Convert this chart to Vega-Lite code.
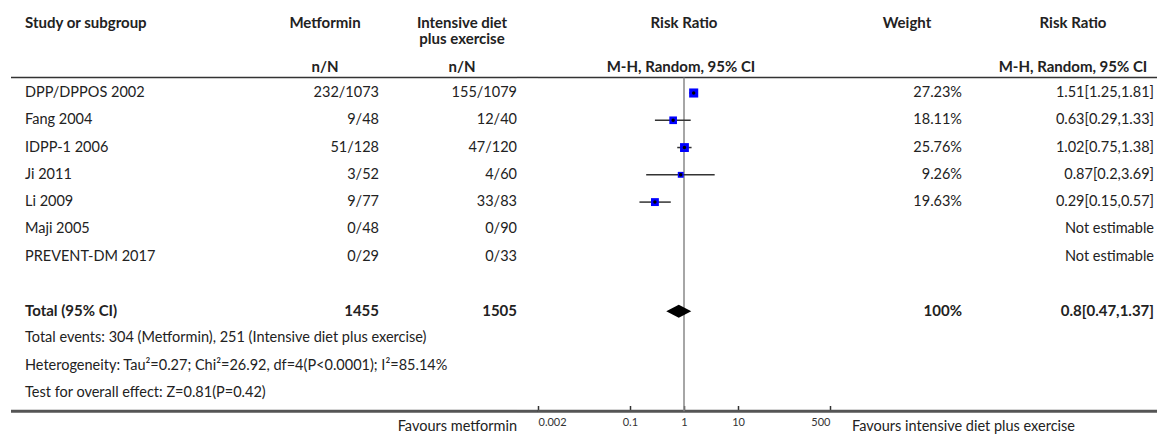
{
  "$schema": "https://vega.github.io/schema/vega-lite/v6.json",
  "background": "white",
  "padding": {"left": 9, "top": 0, "right": 0, "bottom": 0},
  "spacing": 0,
  "bounds": "flush",
  "config": {
    "view": {"stroke": null},
    "text": {"font": "Lato", "fontSize": 14.5, "color": "#222222"}
  },
  "datasets": {
    "rows": [
      {"key": "dpp", "label": "DPP/DPPOS 2002", "kind": "study", "met": "232/1073", "int": "155/1079", "wt": "27.23%", "ci": "1.51[1.25,1.81]", "rr": 1.51, "lo": 1.25, "hi": 1.81, "w": 27.23},
      {"key": "fang", "label": "Fang 2004", "kind": "study", "met": "9/48", "int": "12/40", "wt": "18.11%", "ci": "0.63[0.29,1.33]", "rr": 0.63, "lo": 0.29, "hi": 1.33, "w": 18.11},
      {"key": "idpp", "label": "IDPP-1 2006", "kind": "study", "met": "51/128", "int": "47/120", "wt": "25.76%", "ci": "1.02[0.75,1.38]", "rr": 1.02, "lo": 0.75, "hi": 1.38, "w": 25.76},
      {"key": "ji", "label": "Ji 2011", "kind": "study", "met": "3/52", "int": "4/60", "wt": "9.26%", "ci": "0.87[0.2,3.69]", "rr": 0.87, "lo": 0.2, "hi": 3.69, "w": 9.26},
      {"key": "li", "label": "Li 2009", "kind": "study", "met": "9/77", "int": "33/83", "wt": "19.63%", "ci": "0.29[0.15,0.57]", "rr": 0.29, "lo": 0.15, "hi": 0.57, "w": 19.63},
      {"key": "maji", "label": "Maji 2005", "kind": "study", "met": "0/48", "int": "0/90", "wt": "", "ci": "Not estimable", "rr": null, "lo": null, "hi": null, "w": null},
      {"key": "prev", "label": "PREVENT-DM 2017", "kind": "study", "met": "0/29", "int": "0/33", "wt": "", "ci": "Not estimable", "rr": null, "lo": null, "hi": null, "w": null},
      {"key": "total", "label": "Total (95% CI)", "kind": "total", "met": "1455", "int": "1505", "wt": "100%", "ci": "0.8[0.47,1.37]", "rr": 0.8, "lo": 0.47, "hi": 1.37, "w": 100},
      {"key": "ev", "label": "Total events: 304 (Metformin), 251 (Intensive diet plus exercise)", "kind": "note"},
      {"key": "het", "label": "Heterogeneity: Tau²=0.27; Chi²=26.92, df=4(P<0.0001); I²=85.14%", "kind": "note"},
      {"key": "test", "label": "Test for overall effect: Z=0.81(P=0.42)", "kind": "note"}
    ],
    "heads": [
      {"col": "study", "top": "Study or subgroup", "sub": "", "foot": ""},
      {"col": "met", "top": "Metformin", "sub": "n/N", "foot": ""},
      {"col": "int", "top": "Intensive diet\nplus exercise", "sub": "n/N", "foot": "Favours metformin"},
      {"col": "gap", "top": "", "sub": "", "foot": ""},
      {"col": "rr", "top": "Risk Ratio", "sub": "M-H, Random, 95% CI", "foot": ""},
      {"col": "wt", "top": "Weight", "sub": "", "foot": "Favours intensive diet plus exercise"},
      {"col": "ci", "top": "Risk Ratio", "sub": "M-H, Random, 95% CI", "foot": ""}
    ]
  },
  "hconcat": [
    {
      "width": 241, "height": 435,
      "data": {"name": "heads"},
      "layer": [
        {"transform": [{"filter": "datum.col === 'study'"}], "mark": {"type": "rule", "color": "#333333", "strokeWidth": 1.5}, "encoding": {"y": {"datum": "h3", "type": "nominal", "bandPosition": 0.93, "scale": {"type": "band", "domain": ["h1","h2","h3","dpp","fang","idpp","ji","li","maji","prev","gap","total","ev","het","test","axis"], "range": [-2.45, 433.9], "paddingInner": 0, "paddingOuter": 0}, "axis": null}}},
        {"transform": [{"filter": "datum.col === 'study'"}], "mark": {"type": "rule", "color": "#555555", "strokeWidth": 3}, "encoding": {"y": {"datum": "axis", "type": "nominal", "bandPosition": 0.17, "scale": {"type": "band", "domain": ["h1","h2","h3","dpp","fang","idpp","ji","li","maji","prev","gap","total","ev","het","test","axis"], "range": [-2.45, 433.9], "paddingInner": 0, "paddingOuter": 0}, "axis": null}}},
        {"transform": [{"filter": "datum.col === 'study'"}],
         "mark": {"type": "text", "align": "left", "baseline": "alphabetic", "dx": 14, "fontWeight": "bold", "fontSize": 15},
         "encoding": {"x": {"value": 0}, "y": {"datum": "h2", "type": "nominal", "bandPosition": 0.1, "scale": {"type": "band", "domain": ["h1","h2","h3","dpp","fang","idpp","ji","li","maji","prev","gap","total","ev","het","test","axis"], "range": [-2.45, 433.9], "paddingInner": 0, "paddingOuter": 0}, "axis": null}, "text": {"field": "top"}}},
        {"data": {"name": "rows"}, "transform": [{"filter": "datum.kind !== 'total'"}],
         "mark": {"type": "text", "align": "left", "dx": 14},
         "encoding": {"x": {"value": 0}, "y": {"field": "key", "type": "nominal", "scale": {"type": "band", "domain": ["h1","h2","h3","dpp","fang","idpp","ji","li","maji","prev","gap","total","ev","het","test","axis"], "range": [-2.45, 433.9], "paddingInner": 0, "paddingOuter": 0}, "axis": null}, "text": {"field": "label"}}},
        {"data": {"name": "rows"}, "transform": [{"filter": "datum.kind === 'total'"}],
         "mark": {"type": "text", "align": "left", "dx": 14, "fontWeight": "bold", "fontSize": 15},
         "encoding": {"x": {"value": 0}, "y": {"field": "key", "type": "nominal", "scale": {"type": "band", "domain": ["h1","h2","h3","dpp","fang","idpp","ji","li","maji","prev","gap","total","ev","het","test","axis"], "range": [-2.45, 433.9], "paddingInner": 0, "paddingOuter": 0}, "axis": null}, "text": {"field": "label"}}}
      ]
    },
    {
      "width": 127, "height": 435,
      "data": {"name": "heads"},
      "layer": [
        {"transform": [{"filter": "datum.col === 'met'"}], "mark": {"type": "rule", "color": "#333333", "strokeWidth": 1.5}, "encoding": {"y": {"datum": "h3", "type": "nominal", "bandPosition": 0.93, "scale": {"type": "band", "domain": ["h1","h2","h3","dpp","fang","idpp","ji","li","maji","prev","gap","total","ev","het","test","axis"], "range": [-2.45, 433.9], "paddingInner": 0, "paddingOuter": 0}, "axis": null}}},
        {"transform": [{"filter": "datum.col === 'met'"}], "mark": {"type": "rule", "color": "#555555", "strokeWidth": 3}, "encoding": {"y": {"datum": "axis", "type": "nominal", "bandPosition": 0.17, "scale": {"type": "band", "domain": ["h1","h2","h3","dpp","fang","idpp","ji","li","maji","prev","gap","total","ev","het","test","axis"], "range": [-2.45, 433.9], "paddingInner": 0, "paddingOuter": 0}, "axis": null}}},
        {"transform": [{"filter": "datum.col === 'met'"}],
         "mark": {"type": "text", "align": "center", "baseline": "alphabetic", "dx": -54, "fontWeight": "bold", "fontSize": 15},
         "encoding": {"x": {"value": "width"}, "y": {"datum": "h2", "type": "nominal", "bandPosition": 0.1, "scale": {"type": "band", "domain": ["h1","h2","h3","dpp","fang","idpp","ji","li","maji","prev","gap","total","ev","het","test","axis"], "range": [-2.45, 433.9], "paddingInner": 0, "paddingOuter": 0}, "axis": null}, "text": {"field": "top"}}},
        {"transform": [{"filter": "datum.col === 'met'"}],
         "mark": {"type": "text", "align": "center", "dx": -54, "fontWeight": "bold", "fontSize": 15},
         "encoding": {"x": {"value": "width"}, "y": {"datum": "h3", "type": "nominal", "bandPosition": 0.546, "scale": {"type": "band", "domain": ["h1","h2","h3","dpp","fang","idpp","ji","li","maji","prev","gap","total","ev","het","test","axis"], "range": [-2.45, 433.9], "paddingInner": 0, "paddingOuter": 0}, "axis": null}, "text": {"field": "sub"}}},
        {"data": {"name": "rows"}, "transform": [{"filter": "datum.kind === 'study'"}],
         "mark": {"type": "text", "align": "right"},
         "encoding": {"x": {"value": "width"}, "y": {"field": "key", "type": "nominal", "scale": {"type": "band", "domain": ["h1","h2","h3","dpp","fang","idpp","ji","li","maji","prev","gap","total","ev","het","test","axis"], "range": [-2.45, 433.9], "paddingInner": 0, "paddingOuter": 0}, "axis": null}, "text": {"field": "met"}}},
        {"data": {"name": "rows"}, "transform": [{"filter": "datum.kind === 'total'"}],
         "mark": {"type": "text", "align": "right", "fontWeight": "bold", "fontSize": 15},
         "encoding": {"x": {"value": "width"}, "y": {"field": "key", "type": "nominal", "scale": {"type": "band", "domain": ["h1","h2","h3","dpp","fang","idpp","ji","li","maji","prev","gap","total","ev","het","test","axis"], "range": [-2.45, 433.9], "paddingInner": 0, "paddingOuter": 0}, "axis": null}, "text": {"field": "met"}}}
      ]
    },
    {
      "width": 138, "height": 435,
      "data": {"name": "heads"},
      "layer": [
        {"transform": [{"filter": "datum.col === 'int'"}], "mark": {"type": "rule", "color": "#333333", "strokeWidth": 1.5}, "encoding": {"y": {"datum": "h3", "type": "nominal", "bandPosition": 0.93, "scale": {"type": "band", "domain": ["h1","h2","h3","dpp","fang","idpp","ji","li","maji","prev","gap","total","ev","het","test","axis"], "range": [-2.45, 433.9], "paddingInner": 0, "paddingOuter": 0}, "axis": null}}},
        {"transform": [{"filter": "datum.col === 'int'"}], "mark": {"type": "rule", "color": "#555555", "strokeWidth": 3}, "encoding": {"y": {"datum": "axis", "type": "nominal", "bandPosition": 0.17, "scale": {"type": "band", "domain": ["h1","h2","h3","dpp","fang","idpp","ji","li","maji","prev","gap","total","ev","het","test","axis"], "range": [-2.45, 433.9], "paddingInner": 0, "paddingOuter": 0}, "axis": null}}},
        {"transform": [{"filter": "datum.col === 'int'"}],
         "mark": {"type": "text", "align": "center", "baseline": "alphabetic", "dx": -55, "fontWeight": "bold", "fontSize": 15, "lineBreak": "\n", "lineHeight": 16.5},
         "encoding": {"x": {"value": "width"}, "y": {"datum": "h2", "type": "nominal", "bandPosition": 0.1, "scale": {"type": "band", "domain": ["h1","h2","h3","dpp","fang","idpp","ji","li","maji","prev","gap","total","ev","het","test","axis"], "range": [-2.45, 433.9], "paddingInner": 0, "paddingOuter": 0}, "axis": null}, "text": {"field": "top"}}},
        {"transform": [{"filter": "datum.col === 'int'"}],
         "mark": {"type": "text", "align": "center", "dx": -55, "fontWeight": "bold", "fontSize": 15},
         "encoding": {"x": {"value": "width"}, "y": {"datum": "h3", "type": "nominal", "bandPosition": 0.546, "scale": {"type": "band", "domain": ["h1","h2","h3","dpp","fang","idpp","ji","li","maji","prev","gap","total","ev","het","test","axis"], "range": [-2.45, 433.9], "paddingInner": 0, "paddingOuter": 0}, "axis": null}, "text": {"field": "sub"}}},
        {"transform": [{"filter": "datum.col === 'int'"}],
         "mark": {"type": "text", "align": "right"},
         "encoding": {"x": {"value": "width"}, "y": {"datum": "axis", "type": "nominal", "bandPosition": 0.74, "scale": {"type": "band", "domain": ["h1","h2","h3","dpp","fang","idpp","ji","li","maji","prev","gap","total","ev","het","test","axis"], "range": [-2.45, 433.9], "paddingInner": 0, "paddingOuter": 0}, "axis": null}, "text": {"field": "foot"}}},
        {"data": {"name": "rows"}, "transform": [{"filter": "datum.kind === 'study'"}],
         "mark": {"type": "text", "align": "right"},
         "encoding": {"x": {"value": "width"}, "y": {"field": "key", "type": "nominal", "scale": {"type": "band", "domain": ["h1","h2","h3","dpp","fang","idpp","ji","li","maji","prev","gap","total","ev","het","test","axis"], "range": [-2.45, 433.9], "paddingInner": 0, "paddingOuter": 0}, "axis": null}, "text": {"field": "int"}}},
        {"data": {"name": "rows"}, "transform": [{"filter": "datum.kind === 'total'"}],
         "mark": {"type": "text", "align": "right", "fontWeight": "bold", "fontSize": 15},
         "encoding": {"x": {"value": "width"}, "y": {"field": "key", "type": "nominal", "scale": {"type": "band", "domain": ["h1","h2","h3","dpp","fang","idpp","ji","li","maji","prev","gap","total","ev","het","test","axis"], "range": [-2.45, 433.9], "paddingInner": 0, "paddingOuter": 0}, "axis": null}, "text": {"field": "int"}}}
      ]
    },
    {
      "width": 21, "height": 435,
      "data": {"name": "heads"},
      "transform": [{"filter": "datum.col === 'gap'"}],
      "layer": [
        {"mark": {"type": "rule", "color": "#333333", "strokeWidth": 1.5}, "encoding": {"y": {"datum": "h3", "type": "nominal", "bandPosition": 0.93, "scale": {"type": "band", "domain": ["h1","h2","h3","dpp","fang","idpp","ji","li","maji","prev","gap","total","ev","het","test","axis"], "range": [-2.45, 433.9], "paddingInner": 0, "paddingOuter": 0}, "axis": null}}},
        {"mark": {"type": "rule", "color": "#555555", "strokeWidth": 3}, "encoding": {"y": {"datum": "axis", "type": "nominal", "bandPosition": 0.17, "scale": {"type": "band", "domain": ["h1","h2","h3","dpp","fang","idpp","ji","li","maji","prev","gap","total","ev","het","test","axis"], "range": [-2.45, 433.9], "paddingInner": 0, "paddingOuter": 0}, "axis": null}}}
      ]
    },
    {
      "width": 292, "height": 411.5,
      "data": {"name": "heads"},
      "layer": [
        {"transform": [{"filter": "datum.col === 'rr'"}], "mark": {"type": "rule", "color": "#333333", "strokeWidth": 1.5}, "encoding": {"y": {"datum": "h3", "type": "nominal", "bandPosition": 0.93, "scale": {"type": "band", "domain": ["h1","h2","h3","dpp","fang","idpp","ji","li","maji","prev","gap","total","ev","het","test","axis"], "range": [-2.45, 433.9], "paddingInner": 0, "paddingOuter": 0}, "axis": null}}},
        {"transform": [{"filter": "datum.col === 'rr'"}], "mark": {"type": "rule", "color": "#555555", "strokeWidth": 3}, "encoding": {"y": {"datum": "axis", "type": "nominal", "bandPosition": 0.17, "scale": {"type": "band", "domain": ["h1","h2","h3","dpp","fang","idpp","ji","li","maji","prev","gap","total","ev","het","test","axis"], "range": [-2.45, 433.9], "paddingInner": 0, "paddingOuter": 0}, "axis": null}}},
        {"transform": [{"filter": "datum.col === 'rr'"}],
         "mark": {"type": "text", "align": "center", "baseline": "alphabetic", "fontWeight": "bold", "fontSize": 15},
         "encoding": {"x": {"datum": 1, "type": "quantitative", "scale": {"type": "log", "domain": [0.002, 500], "nice": false}, "axis": {"orient": "bottom", "values": [0.002, 0.1, 1, 10, 500], "format": "~g", "domain": false, "grid": false, "ticks": true, "tickSize": -6, "tickWidth": 1.5, "tickColor": "#333333", "labelFlush": true, "labelFont": "Lato", "labelFontSize": 11, "labelColor": "#333333", "labelPadding": 11, "title": null}}, "y": {"datum": "h2", "type": "nominal", "bandPosition": 0.1, "scale": {"type": "band", "domain": ["h1","h2","h3","dpp","fang","idpp","ji","li","maji","prev","gap","total","ev","het","test","axis"], "range": [-2.45, 433.9], "paddingInner": 0, "paddingOuter": 0}, "axis": null}, "text": {"field": "top"}}},
        {"transform": [{"filter": "datum.col === 'rr'"}],
         "mark": {"type": "text", "align": "center", "fontWeight": "bold", "fontSize": 15, "dx": -3},
         "encoding": {"x": {"datum": 1, "type": "quantitative", "scale": {"type": "log", "domain": [0.002, 500], "nice": false}, "axis": {"orient": "bottom", "values": [0.002, 0.1, 1, 10, 500], "format": "~g", "domain": false, "grid": false, "ticks": true, "tickSize": -6, "tickWidth": 1.5, "tickColor": "#333333", "labelFlush": true, "labelFont": "Lato", "labelFontSize": 11, "labelColor": "#333333", "labelPadding": 11, "title": null}}, "y": {"datum": "h3", "type": "nominal", "bandPosition": 0.546, "scale": {"type": "band", "domain": ["h1","h2","h3","dpp","fang","idpp","ji","li","maji","prev","gap","total","ev","het","test","axis"], "range": [-2.45, 433.9], "paddingInner": 0, "paddingOuter": 0}, "axis": null}, "text": {"field": "sub"}}},
        {"transform": [{"filter": "datum.col === 'rr'"}],
         "mark": {"type": "rule", "color": "#888888", "strokeWidth": 1.5},
         "encoding": {"x": {"datum": 1, "type": "quantitative", "scale": {"type": "log", "domain": [0.002, 500], "nice": false}, "axis": {"orient": "bottom", "values": [0.002, 0.1, 1, 10, 500], "format": "~g", "domain": false, "grid": false, "ticks": true, "tickSize": -6, "tickWidth": 1.5, "tickColor": "#333333", "labelFlush": true, "labelFont": "Lato", "labelFontSize": 11, "labelColor": "#333333", "labelPadding": 11, "title": null}}, "y": {"datum": "h3", "type": "nominal", "bandPosition": 0.93, "scale": {"type": "band", "domain": ["h1","h2","h3","dpp","fang","idpp","ji","li","maji","prev","gap","total","ev","het","test","axis"], "range": [-2.45, 433.9], "paddingInner": 0, "paddingOuter": 0}, "axis": null}, "y2": {"datum": "axis", "bandPosition": 0.17}}},
        {"data": {"name": "rows"}, "transform": [{"filter": "datum.kind === 'study' && isValid(datum.rr)"}],
         "mark": {"type": "rule", "color": "#333333", "strokeWidth": 1.5},
         "encoding": {
           "x": {"field": "lo", "type": "quantitative", "scale": {"type": "log", "domain": [0.002, 500], "nice": false},
                 "axis": {"orient": "bottom", "values": [0.002, 0.1, 1, 10, 500], "format": "~g", "domain": false, "grid": false, "ticks": true, "tickSize": -6, "tickWidth": 1.5, "tickColor": "#333333", "labelFlush": true, "labelFont": "Lato", "labelFontSize": 11, "labelColor": "#333333", "labelPadding": 11, "title": null}},
           "x2": {"field": "hi"},
           "y": {"field": "key", "type": "nominal", "scale": {"type": "band", "domain": ["h1","h2","h3","dpp","fang","idpp","ji","li","maji","prev","gap","total","ev","het","test","axis"], "range": [-2.45, 433.9], "paddingInner": 0, "paddingOuter": 0}, "axis": null}}},
        {"data": {"name": "rows"}, "transform": [{"filter": "datum.kind === 'study' && isValid(datum.rr)"}],
         "mark": {"type": "point", "shape": "square", "filled": true, "color": "#0000ff", "opacity": 1},
         "encoding": {
           "x": {"field": "rr", "type": "quantitative", "scale": {"type": "log", "domain": [0.002, 500], "nice": false}, "axis": {"orient": "bottom", "values": [0.002, 0.1, 1, 10, 500], "format": "~g", "domain": false, "grid": false, "ticks": true, "tickSize": -6, "tickWidth": 1.5, "tickColor": "#333333", "labelFlush": true, "labelFont": "Lato", "labelFontSize": 11, "labelColor": "#333333", "labelPadding": 11, "title": null}},
           "y": {"field": "key", "type": "nominal", "scale": {"type": "band", "domain": ["h1","h2","h3","dpp","fang","idpp","ji","li","maji","prev","gap","total","ev","het","test","axis"], "range": [-2.45, 433.9], "paddingInner": 0, "paddingOuter": 0}, "axis": null},
           "size": {"field": "w", "type": "quantitative", "scale": {"domain": [0, 30], "range": [10, 90]}, "legend": null}}},
        {"data": {"name": "rows"}, "transform": [{"filter": "datum.kind === 'study' && isValid(datum.rr)"}],
         "mark": {"type": "point", "shape": "circle", "filled": true, "color": "#000000", "opacity": 1, "size": 12},
         "encoding": {
           "x": {"field": "rr", "type": "quantitative", "scale": {"type": "log", "domain": [0.002, 500], "nice": false}, "axis": {"orient": "bottom", "values": [0.002, 0.1, 1, 10, 500], "format": "~g", "domain": false, "grid": false, "ticks": true, "tickSize": -6, "tickWidth": 1.5, "tickColor": "#333333", "labelFlush": true, "labelFont": "Lato", "labelFontSize": 11, "labelColor": "#333333", "labelPadding": 11, "title": null}},
           "y": {"field": "key", "type": "nominal", "scale": {"type": "band", "domain": ["h1","h2","h3","dpp","fang","idpp","ji","li","maji","prev","gap","total","ev","het","test","axis"], "range": [-2.45, 433.9], "paddingInner": 0, "paddingOuter": 0}, "axis": null}}},
        {"data": {"name": "rows"}, "transform": [{"filter": "datum.kind === 'total'"}],
         "mark": {"type": "point", "shape": "M-1,0L0,-0.52L1,0L0,0.52Z", "filled": true, "color": "#000000", "opacity": 1, "size": 625},
         "encoding": {
           "x": {"field": "rr", "type": "quantitative", "scale": {"type": "log", "domain": [0.002, 500], "nice": false}, "axis": {"orient": "bottom", "values": [0.002, 0.1, 1, 10, 500], "format": "~g", "domain": false, "grid": false, "ticks": true, "tickSize": -6, "tickWidth": 1.5, "tickColor": "#333333", "labelFlush": true, "labelFont": "Lato", "labelFontSize": 11, "labelColor": "#333333", "labelPadding": 11, "title": null}},
           "y": {"field": "key", "type": "nominal", "scale": {"type": "band", "domain": ["h1","h2","h3","dpp","fang","idpp","ji","li","maji","prev","gap","total","ev","het","test","axis"], "range": [-2.45, 433.9], "paddingInner": 0, "paddingOuter": 0}, "axis": null}}}
      ]
    },
    {
      "width": 132, "height": 435,
      "data": {"name": "heads"},
      "layer": [
        {"transform": [{"filter": "datum.col === 'wt'"}], "mark": {"type": "rule", "color": "#333333", "strokeWidth": 1.5}, "encoding": {"y": {"datum": "h3", "type": "nominal", "bandPosition": 0.93, "scale": {"type": "band", "domain": ["h1","h2","h3","dpp","fang","idpp","ji","li","maji","prev","gap","total","ev","het","test","axis"], "range": [-2.45, 433.9], "paddingInner": 0, "paddingOuter": 0}, "axis": null}}},
        {"transform": [{"filter": "datum.col === 'wt'"}], "mark": {"type": "rule", "color": "#555555", "strokeWidth": 3}, "encoding": {"y": {"datum": "axis", "type": "nominal", "bandPosition": 0.17, "scale": {"type": "band", "domain": ["h1","h2","h3","dpp","fang","idpp","ji","li","maji","prev","gap","total","ev","het","test","axis"], "range": [-2.45, 433.9], "paddingInner": 0, "paddingOuter": 0}, "axis": null}}},
        {"transform": [{"filter": "datum.col === 'wt'"}],
         "mark": {"type": "text", "align": "center", "baseline": "alphabetic", "dx": -55, "fontWeight": "bold", "fontSize": 15},
         "encoding": {"x": {"value": "width"}, "y": {"datum": "h2", "type": "nominal", "bandPosition": 0.1, "scale": {"type": "band", "domain": ["h1","h2","h3","dpp","fang","idpp","ji","li","maji","prev","gap","total","ev","het","test","axis"], "range": [-2.45, 433.9], "paddingInner": 0, "paddingOuter": 0}, "axis": null}, "text": {"field": "top"}}},
        {"transform": [{"filter": "datum.col === 'wt'"}],
         "mark": {"type": "text", "align": "left", "dx": 22},
         "encoding": {"x": {"value": 0}, "y": {"datum": "axis", "type": "nominal", "bandPosition": 0.74, "scale": {"type": "band", "domain": ["h1","h2","h3","dpp","fang","idpp","ji","li","maji","prev","gap","total","ev","het","test","axis"], "range": [-2.45, 433.9], "paddingInner": 0, "paddingOuter": 0}, "axis": null}, "text": {"field": "foot"}}},
        {"data": {"name": "rows"}, "transform": [{"filter": "datum.kind === 'study' && datum.wt !== ''"}],
         "mark": {"type": "text", "align": "right"},
         "encoding": {"x": {"value": "width"}, "y": {"field": "key", "type": "nominal", "scale": {"type": "band", "domain": ["h1","h2","h3","dpp","fang","idpp","ji","li","maji","prev","gap","total","ev","het","test","axis"], "range": [-2.45, 433.9], "paddingInner": 0, "paddingOuter": 0}, "axis": null}, "text": {"field": "wt"}}},
        {"data": {"name": "rows"}, "transform": [{"filter": "datum.kind === 'total'"}],
         "mark": {"type": "text", "align": "right", "fontWeight": "bold", "fontSize": 15},
         "encoding": {"x": {"value": "width"}, "y": {"field": "key", "type": "nominal", "scale": {"type": "band", "domain": ["h1","h2","h3","dpp","fang","idpp","ji","li","maji","prev","gap","total","ev","het","test","axis"], "range": [-2.45, 433.9], "paddingInner": 0, "paddingOuter": 0}, "axis": null}, "text": {"field": "wt"}}}
      ]
    },
    {
      "width": 197, "height": 435,
      "data": {"name": "heads"},
      "layer": [
        {"transform": [{"filter": "datum.col === 'ci'"}], "mark": {"type": "rule", "color": "#333333", "strokeWidth": 1.5}, "encoding": {"y": {"datum": "h3", "type": "nominal", "bandPosition": 0.93, "scale": {"type": "band", "domain": ["h1","h2","h3","dpp","fang","idpp","ji","li","maji","prev","gap","total","ev","het","test","axis"], "range": [-2.45, 433.9], "paddingInner": 0, "paddingOuter": 0}, "axis": null}}},
        {"transform": [{"filter": "datum.col === 'ci'"}], "mark": {"type": "rule", "color": "#555555", "strokeWidth": 3}, "encoding": {"y": {"datum": "axis", "type": "nominal", "bandPosition": 0.17, "scale": {"type": "band", "domain": ["h1","h2","h3","dpp","fang","idpp","ji","li","maji","prev","gap","total","ev","het","test","axis"], "range": [-2.45, 433.9], "paddingInner": 0, "paddingOuter": 0}, "axis": null}}},
        {"transform": [{"filter": "datum.col === 'ci'"}],
         "mark": {"type": "text", "align": "center", "baseline": "alphabetic", "dx": -86, "fontWeight": "bold", "fontSize": 15},
         "encoding": {"x": {"value": "width"}, "y": {"datum": "h2", "type": "nominal", "bandPosition": 0.1, "scale": {"type": "band", "domain": ["h1","h2","h3","dpp","fang","idpp","ji","li","maji","prev","gap","total","ev","het","test","axis"], "range": [-2.45, 433.9], "paddingInner": 0, "paddingOuter": 0}, "axis": null}, "text": {"field": "top"}}},
        {"transform": [{"filter": "datum.col === 'ci'"}],
         "mark": {"type": "text", "align": "center", "dx": -86, "fontWeight": "bold", "fontSize": 15},
         "encoding": {"x": {"value": "width"}, "y": {"datum": "h3", "type": "nominal", "bandPosition": 0.546, "scale": {"type": "band", "domain": ["h1","h2","h3","dpp","fang","idpp","ji","li","maji","prev","gap","total","ev","het","test","axis"], "range": [-2.45, 433.9], "paddingInner": 0, "paddingOuter": 0}, "axis": null}, "text": {"field": "sub"}}},
        {"data": {"name": "rows"}, "transform": [{"filter": "datum.kind === 'study'"}],
         "mark": {"type": "text", "align": "right", "dx": -5},
         "encoding": {"x": {"value": "width"}, "y": {"field": "key", "type": "nominal", "scale": {"type": "band", "domain": ["h1","h2","h3","dpp","fang","idpp","ji","li","maji","prev","gap","total","ev","het","test","axis"], "range": [-2.45, 433.9], "paddingInner": 0, "paddingOuter": 0}, "axis": null}, "text": {"field": "ci"}}},
        {"data": {"name": "rows"}, "transform": [{"filter": "datum.kind === 'total'"}],
         "mark": {"type": "text", "align": "right", "dx": -5, "fontWeight": "bold", "fontSize": 15},
         "encoding": {"x": {"value": "width"}, "y": {"field": "key", "type": "nominal", "scale": {"type": "band", "domain": ["h1","h2","h3","dpp","fang","idpp","ji","li","maji","prev","gap","total","ev","het","test","axis"], "range": [-2.45, 433.9], "paddingInner": 0, "paddingOuter": 0}, "axis": null}, "text": {"field": "ci"}}}
      ]
    }
  ]
}
